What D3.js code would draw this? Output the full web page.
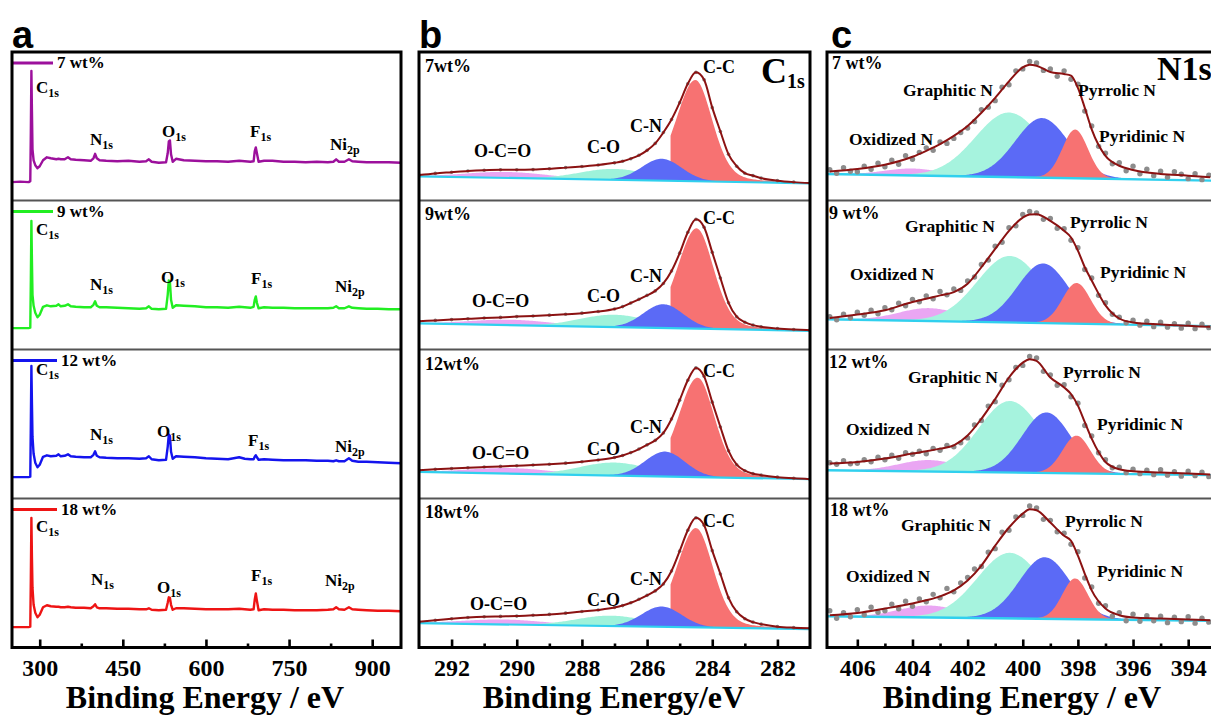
<!DOCTYPE html>
<html>
<head>
<meta charset="utf-8">
<script src="https://cdn.jsdelivr.net/npm/d3@7"></script>
<style>
  html, body { margin: 0; padding: 0; background: #fff; }
  svg { display: block; }
</style>
</head>
<body>
<svg id="fig" width="1211" height="715"></svg>
<script>
// ---------------- data ----------------
const sampleNames = ["7 wt%", "9 wt%", "12 wt%", "18 wt%"];
const c1sTags = ["7wt%", "9wt%", "12wt%", "18wt%"];
const n1sTags = ["7 wt%", "9 wt%", "12 wt%", "18 wt%"];

const surveyTicks = [300, 450, 600, 750, 900];
const surveyMinorTicks = [375, 525, 675, 825];
const c1sTicks = [292, 290, 288, 286, 284, 282];
const c1sMinorTicks = [291, 289, 287, 285, 283];
const n1sTicks = [406, 404, 402, 400, 398, 396, 394];
const n1sMinorTicks = [405, 403, 401, 399, 397, 395];

// survey spectra (binding energy in eV, intensity in a.u.)
const surveyEnergy = [250, 265, 280, 283, 284, 285, 286, 287, 289, 292, 296, 300, 306, 313, 320, 330, 334, 338, 345, 351, 356, 365, 380, 392, 397, 400, 403, 408, 420, 440, 460, 480, 492, 497, 502, 515, 528, 531, 533, 535, 537, 540, 546, 560, 580, 600, 620, 640, 660, 670, 680, 686, 688, 690, 692, 695, 705, 720, 740, 760, 780, 800, 820, 830, 835, 840, 850, 858, 864, 875, 890, 910, 930, 952];
const survey7 = [19, 19.5, 19, 20, 70, 131, 90, 52, 41, 36, 33, 35, 41, 44, 43, 42, 42.5, 42, 42, 44, 42, 41.5, 41, 40.5, 43, 47.5, 43, 41, 40.5, 40, 40.5, 39.5, 40, 42, 39.5, 38.5, 39, 48, 60, 61, 47, 39.5, 42.5, 41, 40.5, 40, 40, 39.5, 40.5, 40, 39.5, 40, 50, 54, 48, 39.5, 40.5, 40.5, 39.5, 39.5, 39, 39.5, 39, 39.5, 42, 39.5, 39.5, 42, 40, 39.5, 39, 39, 39, 38.5];
const survey9 = [21.5, 21.5, 21.5, 22, 70, 129.5, 88, 55, 44, 37, 32.5, 35, 43, 44.5, 43.5, 44, 45.5, 43.5, 44, 45.5, 43.5, 43, 42.5, 42.5, 45, 48.5, 44, 42.5, 42.5, 42, 41.5, 41, 41.5, 43.5, 41, 40.5, 41, 55, 69.5, 68, 50, 42, 44.5, 44, 43.5, 42.5, 42.5, 42, 43, 42.5, 42, 43, 50, 53.5, 47, 41.5, 42.5, 42, 42, 41.5, 41.5, 41.5, 41.5, 42, 43.5, 41.5, 41.5, 43.5, 42, 41.5, 41, 41, 40.5, 40.5];
const survey12 = [21.5, 21.5, 21.5, 22, 75, 133.5, 95, 62, 45, 36, 31.5, 34, 42, 43.5, 42.5, 43, 44.5, 42.5, 43, 44.5, 42.5, 42, 41.5, 41.5, 44, 47.5, 43, 41.5, 41, 40.5, 40.5, 40, 40.5, 42.5, 39.5, 38.5, 39, 52, 64.5, 63, 47, 40, 42.5, 42, 41.5, 40.5, 40, 39.5, 41.5, 40, 39.5, 39.5, 42, 43.5, 41.5, 39, 39.5, 39, 38.5, 38.5, 38.5, 38, 38, 37.5, 38.5, 37.5, 37.5, 40.5, 38, 37, 37, 36.5, 36, 35.5];
const survey18 = [20.5, 20.5, 20.5, 21, 70, 130.5, 90, 60, 43, 35, 30.5, 33, 40.5, 42.5, 41.5, 41, 41, 40.5, 40.5, 41, 40.5, 40, 40, 39.5, 41.5, 43.5, 40.5, 39.5, 39.5, 39, 39, 38.5, 38.5, 39.5, 38, 37.5, 38, 45, 50.5, 50, 43, 38, 39.5, 39.5, 39, 38.5, 38.5, 38.5, 39, 38.5, 38, 38.5, 48, 54.5, 47, 37.5, 38.5, 38, 38, 37.5, 37.5, 37.5, 38, 38.5, 40.5, 38.5, 38, 40.5, 38.5, 38, 37.5, 37, 37, 36.5];
const surveyPeakNames = [["C", "1s"], ["N", "1s"], ["O", "1s"], ["F", "1s"], ["Ni", "2p"]];

// C 1s high-resolution spectra
const c1sEnergy = [293, 292.5, 292, 291.5, 291, 290.5, 290, 289.5, 289, 288.5, 288, 287.5, 287, 286.75, 286.5, 286.25, 286, 285.75, 285.5, 285.25, 285, 284.75, 284.5, 284.25, 284, 283.75, 283.5, 283.25, 283, 282.75, 282.5, 282, 281.5, 281];
const c1s7 = [26.2, 27.8, 29, 30.2, 31, 31.4, 31.4, 31.6, 32.4, 33.6, 34.8, 36.2, 38.4, 40, 42.6, 46, 51, 58, 69, 82, 99, 118, 129.5, 122, 94, 70, 47, 35, 28, 25.5, 23, 20.5, 19, 18];
const c1s9 = [28.5, 29.3, 30.1, 30.9, 31.7, 32.3, 33.1, 33.8, 34.6, 35.5, 36.6, 38.2, 40.8, 43.2, 46.8, 50.5, 54.5, 59, 66.5, 79, 97, 118, 131, 123, 97.8, 72, 47, 33, 27.5, 24.5, 22.8, 21.2, 20.2, 19.5];
const c1s12 = [28.5, 29.4, 30.2, 31, 31.7, 32.3, 33, 33.7, 34.5, 35.6, 37, 38.8, 41.2, 43.3, 46.2, 49.8, 54, 58.5, 66, 80, 99, 119, 131.5, 123, 97, 72, 48, 34, 28, 25, 23.5, 21.5, 20.3, 19.5];
const c1s18 = [25.8, 27.5, 29, 30.2, 31, 31.3, 31.6, 32.4, 33.3, 34.6, 36.2, 37.8, 40.2, 42.2, 45, 48.5, 52.5, 57, 64, 77, 97, 118, 130.5, 123, 97.5, 74, 50, 36, 29, 25.5, 23.5, 21, 20, 19.5];
// linear background at 293 eV and 281 eV
const c1sBackgroundEnergy = [293, 281];
const c1sBackground = [[24.8, 17.8], [26.2, 18.8], [26.8, 19.5], [24.5, 18.5]];
// fitted components: [centre eV, height, HWHM on high-BE side, HWHM on low-BE side]
const c1sComponentNames = ["O-C=O", "C-O", "C-C", "C-N"];
const c1sFit7 = [[290.3, 6, 1.5, 1.5], [287.0, 11, 1.25, 1.25], [284.52, 102, 0.7, 0.62], [285.55, 22, 0.72, 0.72]];
const c1sFit9 = [[290.2, 5.5, 1.5, 1.5], [287.0, 12.5, 1.25, 1.25], [284.48, 101, 0.7, 0.62], [285.5, 24, 0.72, 0.72]];
const c1sFit12 = [[290.2, 5.5, 1.5, 1.5], [287.0, 13, 1.25, 1.25], [284.45, 100, 0.7, 0.62], [285.45, 25, 0.72, 0.72]];
const c1sFit18 = [[290.4, 5, 1.5, 1.5], [287.1, 10.5, 1.25, 1.25], [284.5, 100, 0.7, 0.62], [285.55, 20.5, 0.72, 0.72]];
// C-C component is plotted from this energy downwards
const c1sMainFrom = 285.3;

// N 1s high-resolution spectra
const n1sEnergy = [407, 406.75, 406.5, 406.25, 406, 405.75, 405.5, 405.25, 405, 404.75, 404.5, 404.25, 404, 403.75, 403.5, 403.25, 403, 402.75, 402.5, 402.25, 402, 401.75, 401.5, 401.25, 401, 400.75, 400.5, 400.25, 400, 399.75, 399.5, 399.25, 399, 398.75, 398.5, 398.25, 398, 397.75, 397.5, 397.25, 397, 396.75, 396.5, 396.25, 396, 395.75, 395.5, 395.25, 395, 394.75, 394.5, 394.25, 394, 393.75, 393.5, 393.25];
const n1s7 = [31.5, 28, 33.5, 30, 29.5, 35, 32, 38, 34.5, 41, 37, 45.5, 42, 49, 53.5, 51, 59.5, 58, 63, 69, 73.5, 80, 92, 94.5, 101, 114.5, 117, 131, 133, 140.5, 139, 131.5, 133, 125.5, 131, 122.5, 117.5, 90.5, 75.5, 55, 48, 37.5, 38.5, 30.5, 35, 27.5, 32, 25.5, 30, 24, 29.5, 27, 22.5, 27.5, 21.5, 26];
const n1s9 = [33, 30, 35.5, 32, 37.5, 34.5, 39.5, 36, 42, 40, 46.5, 44, 50.5, 48, 54, 51, 58.5, 55, 61, 59.5, 69, 73, 85.5, 90, 104, 108, 122.5, 124.5, 136, 139, 137.5, 131, 132, 122, 121.5, 110, 102.5, 80.5, 72, 54.5, 47, 35.5, 32.5, 27, 29.5, 24.5, 28.5, 23, 27.5, 22.5, 26, 21.5, 26.5, 21, 25.5, 22];
const n1s12 = [36, 34.5, 38, 35, 35.5, 39, 37, 41.5, 39, 43.5, 40.5, 46, 44.5, 47.5, 45, 50.5, 48.5, 53.5, 52, 56, 61, 74, 78.5, 93, 97.5, 114, 119.5, 132, 134, 143, 141.5, 128, 124.5, 114, 114.5, 102.5, 96, 73.5, 63, 46, 39, 31, 31.5, 26, 29.5, 25, 28.5, 24, 29, 23.5, 27, 22.5, 27.5, 23, 26.5, 22];
const n1s18 = [37, 29.5, 35, 31, 38, 33, 40.5, 35.5, 37, 43.5, 39, 46.5, 41.5, 49, 46, 53.5, 50, 59.5, 56, 65, 70.5, 79, 81.5, 96, 99.5, 116, 118, 131.5, 133, 142.5, 140.5, 129, 128, 116.5, 115, 104, 96.5, 70, 61, 44.5, 42, 31.5, 35, 27, 33.5, 26.5, 32, 27, 31.5, 25, 30.5, 26, 31, 24.5, 29.5, 25.5];
// fitted envelope
const n1sEnvelopeEnergy = [407, 406, 405, 404, 403.5, 403, 402.5, 402, 401.5, 401, 400.5, 400, 399.75, 399.5, 399, 398.5, 398.25, 398, 397.75, 397.5, 397, 396.5, 396, 395, 394, 393.2];
const n1sEnvelope7 = [29.8, 32.2, 36.5, 44.5, 50.5, 57.2, 65.5, 75.5, 88.8, 103.8, 120.5, 134.5, 137.2, 136.2, 129.8, 127.8, 126.2, 113.8, 93.8, 72.2, 45.5, 35.5, 31.2, 27.2, 25.5, 23.8];
const n1sEnvelope9 = [31.8, 35.2, 39.5, 47.8, 51, 54.5, 57.8, 66.2, 82.8, 101.2, 119.5, 132.8, 136, 136.2, 129.5, 119.5, 112.8, 99.5, 82.8, 69.5, 44.5, 31.2, 27.2, 25.2, 23.8, 22.8];
const n1sEnvelope12 = [35.2, 36.8, 40.2, 45.2, 47.5, 50.2, 53.5, 63.5, 80.2, 100.2, 121.8, 136.8, 140.2, 138.5, 121.8, 111.8, 105.2, 93.5, 76.8, 60.2, 36.8, 29.5, 27.5, 26.2, 25.2, 24.2];
const n1sEnvelope18 = [32.5, 34.8, 39.2, 44.2, 47.5, 51.5, 57.5, 67.5, 82.5, 102.5, 120.8, 134.8, 139.2, 138.2, 125.8, 112.5, 107.5, 92.5, 74.2, 57.5, 39.2, 32.5, 30.2, 29.2, 28.2, 27.5];
const n1sBackgroundEnergy = [407.1, 393.1];
const n1sBackground = [[27.2, 20.5], [30.5, 23.5], [28.5, 23.5], [31.5, 26.8]];
// fitted components: [centre eV, height, HWHM]
const n1sComponentNames = ["Oxidized N", "Graphitic N", "Pyrrolic N", "Pyridinic N"];
const n1sFit7 = [[404.0, 7, 1.2], [400.5, 65, 1.45], [399.3, 60, 1.15], [398.1, 49, 0.55]];
const n1sFit9 = [[403.4, 13, 1.3], [400.47, 67, 1.4], [399.26, 60, 1.1], [398.05, 41, 0.6]];
const n1sFit12 = [[403.4, 11.5, 1.3], [400.47, 72, 1.35], [399.14, 61, 1.05], [398.05, 38, 0.6]];
const n1sFit18 = [[403.4, 12, 1.3], [400.47, 66, 1.4], [399.2, 62, 1.1], [398.1, 41, 0.55]];

// ---------------- layout ----------------
const surveySeries = [survey7, survey9, survey12, survey18];
const c1sSeries = [c1s7, c1s9, c1s12, c1s18];
const c1sFits = [c1sFit7, c1sFit9, c1sFit12, c1sFit18];
const n1sSeries = [n1s7, n1s9, n1s12, n1s18];
const n1sEnvelopes = [n1sEnvelope7, n1sEnvelope9, n1sEnvelope12, n1sEnvelope18];
const n1sFits = [n1sFit7, n1sFit9, n1sFit12, n1sFit18];

const serif = '"Liberation Serif","Times New Roman",Times,serif';
const sans = '"Liberation Sans",Arial,Helvetica,sans-serif';
const rowTops = [52, 200.5, 349.5, 498.5];
const rowH = 149;
const frameTop = 52, frameBottom = 647.5;

const surveyColors = ["#9c109c", "#22ee22", "#1414ee", "#ee1414"];
const c1sFill = ["#eaa6f3", "#9ef2da", "#f77272", "#5b6af6"];
const n1sFill = ["#eaa6f3", "#a6f3de", "#5b6af6", "#f77272"];
const envelopeColor = "#8b1212";
const baseColor = "#30d0ee";

const svg = d3.select("#fig");

const xA = d3.scaleLinear().domain([250, 952]).range([12, 401]);
const xB = d3.scaleLinear().domain([293, 281]).range([419, 810]);
const xC = d3.scaleLinear().domain([407.1, 393.1]).range([827, 1213]);
const rowY = i => d3.scaleLinear().domain([0, 150]).range([rowTops[i] + rowH, rowTops[i]]);

function peakValue(E, p, mix) {
  const c = p[0], h = p[1];
  const hw = p.length > 3 ? (E >= c ? p[2] : p[3]) : p[2];
  const t = (E - c) / hw;
  return h * ((1 - mix) * Math.exp(-Math.LN2 * t * t) + mix / (1 + t * t));
}

function addText(g, x, y, str, size, sub, subSize, subDy) {
  const t = g.append("text").attr("x", x).attr("y", y)
    .attr("font-family", serif).attr("font-weight", "bold")
    .attr("font-size", size).attr("fill", "#000").text(str);
  if (sub) {
    t.append("tspan").attr("font-size", subSize).attr("dy", subDy).text(sub);
  }
  return t;
}

// clip regions for each panel
const defs = svg.append("defs");
[["clipA", 12, 401], ["clipB", 419, 810], ["clipC", 827, 1213]].forEach(([id, x0, x1]) => {
  defs.append("clipPath").attr("id", id).append("rect")
    .attr("x", x0).attr("y", frameTop).attr("width", x1 - x0).attr("height", frameBottom - frameTop);
});

// ---------------- panel a: survey ----------------
const gA = svg.append("g");
const aLabelPos = [
  [[36, 41], [90, 93], [162, 85], [250, 85], [330, 98]],
  [[36, 34.5], [90, 89.5], [161, 82.5], [251, 83.5], [335, 91.5]],
  [[36, 25.5], [90, 90.5], [157, 87.5], [248, 96.5], [335, 102.5]],
  [[36, 33.5], [91, 86.5], [157, 94.5], [251, 82.5], [325, 87.5]]
];
surveySeries.forEach((vals, i) => {
  const y = rowY(i);
  const line = d3.line().x((d, k) => xA(surveyEnergy[k])).y(d => y(d));
  gA.append("path").datum(vals).attr("clip-path", "url(#clipA)")
    .attr("d", line).attr("fill", "none")
    .attr("stroke", surveyColors[i]).attr("stroke-width", 2.4).attr("stroke-linejoin", "round");
  // legend
  const legEnd = sampleNames[i].length > 5 ? 57 : 53;
  gA.append("line").attr("x1", 12).attr("x2", legEnd)
    .attr("y1", rowTops[i] + 11).attr("y2", rowTops[i] + 11)
    .attr("stroke", surveyColors[i]).attr("stroke-width", 3);
  addText(gA, legEnd + 4, rowTops[i] + 16, sampleNames[i], 17);
  surveyPeakNames.forEach((nm, k) => {
    const [lx, ly] = aLabelPos[i][k];
    addText(gA, lx, rowTops[i] + ly, nm[0], 17, nm[1], 12, 4);
  });
});

// ---------------- panel b: C 1s ----------------
const gB = svg.append("g").attr("clip-path", "url(#clipB)");
const gBl = svg.append("g");
const c1sGrid = d3.range(293, 280.99, -0.04);
const bLabelPos = [
  [[474, 105], [587, 101], [703, 21], [630, 80]],
  [[472, 106.5], [587, 101.5], [703, 23.5], [630, 81.5]],
  [[472, 109.5], [587, 105.5], [703, 27.5], [630, 83.5]],
  [[470, 111], [587, 107.5], [703, 28.5], [630, 86.5]]
];
const bTagY = [19.7, 19.5, 20.5, 19.5];
c1sSeries.forEach((vals, i) => {
  const y = rowY(i);
  const bg = d3.scaleLinear().domain(c1sBackgroundEnergy).range(c1sBackground[i]);
  const fits = c1sFits[i];
  // components drawn in this order: O-C=O, C-O, C-C, C-N
  [0, 1, 2, 3].forEach(k => {
    const mix = k === 2 ? 0.25 : 0;
    const grid = k === 2 ? c1sGrid.filter(E => E <= c1sMainFrom) : c1sGrid;
    const area = d3.area()
      .x(E => xB(E))
      .y0(E => y(bg(E)))
      .y1(E => y(bg(E) + peakValue(E, fits[k], mix)));
    gB.append("path").datum(grid).attr("d", area).attr("fill", c1sFill[k]);
  });
  // background
  gB.append("line")
    .attr("x1", xB(293)).attr("x2", xB(281))
    .attr("y1", y(c1sBackground[i][0])).attr("y2", y(c1sBackground[i][1]))
    .attr("stroke", baseColor).attr("stroke-width", 2.2);
  // measured points
  gB.selectAll(null).data(vals).enter().append("circle")
    .attr("cx", (d, k) => xB(c1sEnergy[k])).attr("cy", d => y(d))
    .attr("r", 1.8).attr("fill", "#808080");
  // fitted envelope
  const line = d3.line().x((d, k) => xB(c1sEnergy[k])).y(d => y(d)).curve(d3.curveMonotoneX);
  gB.append("path").datum(vals).attr("d", line).attr("fill", "none")
    .attr("stroke", envelopeColor).attr("stroke-width", 2);
  // labels
  addText(gBl, 425, rowTops[i] + bTagY[i], c1sTags[i], 18);
  c1sComponentNames.forEach((nm, k) => {
    const [lx, ly] = bLabelPos[i][k];
    addText(gBl, lx, rowTops[i] + ly, nm, 18);
  });
});
addText(gBl, 761, 83, "C", 36, "1s", 20, 5);

// ---------------- panel c: N 1s ----------------
const gC = svg.append("g").attr("clip-path", "url(#clipC)");
const gCl = svg.append("g");
const n1sGrid = d3.range(407.1, 393.09, -0.04);
const cLabelPos = [
  [[849, 93], [903, 44], [1078, 44], [1099, 90]],
  [[850, 79.5], [905, 31.5], [1070, 27.5], [1100, 77.5]],
  [[846, 85.5], [908, 33.5], [1063, 28.5], [1097, 80.5]],
  [[846, 83.5], [901, 32.5], [1065, 28.5], [1097, 78.5]]
];
const cTagPos = [[832, 17], [829, 18.5], [829, 18.5], [830, 17.5]];
n1sSeries.forEach((vals, i) => {
  const y = rowY(i);
  const bg = d3.scaleLinear().domain(n1sBackgroundEnergy).range(n1sBackground[i]);
  const fits = n1sFits[i];
  fits.forEach((p, k) => {
    const area = d3.area()
      .x(E => xC(E))
      .y0(E => y(bg(E)))
      .y1(E => y(bg(E) + peakValue(E, p, 0.05)));
    gC.append("path").datum(n1sGrid).attr("d", area).attr("fill", n1sFill[k]);
  });
  gC.append("line")
    .attr("x1", xC(407.1)).attr("x2", xC(393.1))
    .attr("y1", y(n1sBackground[i][0])).attr("y2", y(n1sBackground[i][1]))
    .attr("stroke", baseColor).attr("stroke-width", 2.4);
  gC.selectAll(null).data(vals).enter().append("circle")
    .attr("cx", (d, k) => xC(n1sEnergy[k])).attr("cy", d => y(d))
    .attr("r", 2.7).attr("fill", "#8c8c8c");
  const env = n1sEnvelopes[i];
  const line = d3.line().x((d, k) => xC(n1sEnvelopeEnergy[k])).y(d => y(d)).curve(d3.curveMonotoneX);
  gC.append("path").datum(env).attr("d", line).attr("fill", "none")
    .attr("stroke", envelopeColor).attr("stroke-width", 2);
  addText(gCl, cTagPos[i][0], rowTops[i] + cTagPos[i][1], n1sTags[i], 18);
  n1sComponentNames.forEach((nm, k) => {
    const [lx, ly] = cLabelPos[i][k];
    addText(gCl, lx, rowTops[i] + ly, nm, 17.5);
  });
});
addText(gCl, 1157, 80, "N1s", 34);

// ---------------- frames, dividers, axes ----------------
const frames = [[12, 401], [419, 810], [827, 1213]];
frames.forEach(([x0, x1]) => {
  rowTops.slice(1).forEach(t => {
    svg.append("line").attr("x1", x0).attr("x2", x1).attr("y1", t).attr("y2", t)
      .attr("stroke", "#555").attr("stroke-width", 1.8);
  });
  svg.append("rect").attr("x", x0).attr("y", frameTop)
    .attr("width", x1 - x0).attr("height", frameBottom - frameTop)
    .attr("fill", "none").attr("stroke", "#000").attr("stroke-width", 3);
});

function drawAxis(x, major, minor) {
  const g = svg.append("g").attr("transform", `translate(0,${frameBottom})`);
  g.call(d3.axisBottom(x).tickValues(major).tickSize(-8).tickPadding(11).tickFormat(d3.format("d")));
  g.select(".domain").remove();
  g.selectAll(".tick line").attr("stroke", "#000").attr("stroke-width", 2.6);
  g.selectAll(".tick text").attr("font-family", serif).attr("font-weight", "bold")
    .attr("font-size", 24).attr("fill", "#000");
  const gm = svg.append("g").attr("transform", `translate(0,${frameBottom})`);
  gm.call(d3.axisBottom(x).tickValues(minor).tickSize(-4).tickFormat(""));
  gm.select(".domain").remove();
  gm.selectAll(".tick line").attr("stroke", "#000").attr("stroke-width", 2.6);
}
drawAxis(xA, surveyTicks, surveyMinorTicks);
drawAxis(xB, c1sTicks, c1sMinorTicks);
drawAxis(xC, n1sTicks, n1sMinorTicks);

// axis titles
[[205, "Binding Energy / eV"], [614, "Binding Energy/eV"], [1022, "Binding Energy / eV"]].forEach(([cx, s]) => {
  svg.append("text").attr("x", cx).attr("y", 708).attr("text-anchor", "middle")
    .attr("font-family", serif).attr("font-weight", "bold").attr("font-size", 32)
    .attr("fill", "#000").text(s);
});

// panel letters
[[12, "a"], [419, "b"], [831, "c"]].forEach(([x, s]) => {
  svg.append("text").attr("x", x).attr("y", 48)
    .attr("font-family", sans).attr("font-weight", "bold").attr("font-size", 38)
    .attr("fill", "#000").text(s);
});
</script>
</body>
</html>
